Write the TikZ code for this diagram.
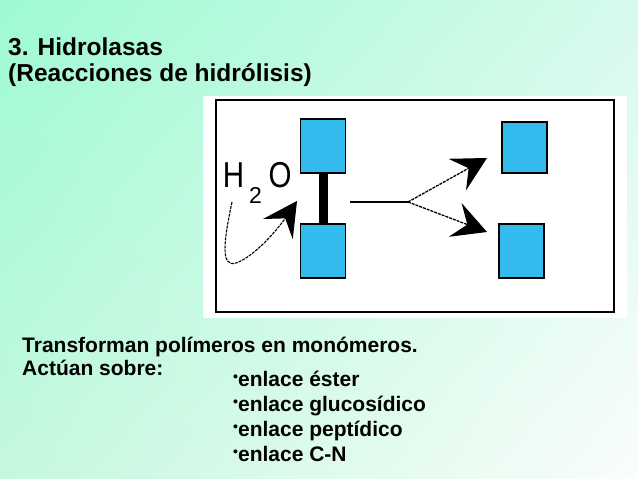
\documentclass[tikz,border=0pt]{standalone}
\usepackage{fontspec}
\setmainfont{Liberation Sans}
\usetikzlibrary{arrows.meta, positioning, shadings}
\definecolor{mintul}{RGB}{158,250,210}
\definecolor{mintur}{RGB}{214,250,236}
\definecolor{mintll}{RGB}{196,248,222}
\definecolor{mintlr}{RGB}{250,253,251}
\definecolor{unitblue}{HTML}{33BBEE}
\newcommand{\dotitem}{\raisebox{5pt}{\fontsize{14}{14}\selectfont •}}

\begin{document}
\begin{tikzpicture}[x=1pt, y=-1pt,
  >={Stealth[length=34pt, width=36pt, inset=13pt]},
  unit/.style={draw=black, line width=1.5pt, fill=unitblue,
    minimum width=45pt, minimum height=#1, inner sep=0pt},
  ttl/.style={anchor=base west, inner sep=0pt, font=\fontsize{24.5}{28}\selectfont\bfseries},
  txt/.style={anchor=base west, inner sep=0pt, font=\fontsize{21}{24}\selectfont\bfseries},
  forkline/.style={->, line width=1.3pt, dash pattern=on 3pt off 1pt},
]

% Background
\shade[upper left=mintul, upper right=mintur, lower left=mintll, lower right=mintlr]
  (0,0) rectangle (638,479);

% Title
\node[ttl] (title) at (8,55) {3. Hidrolasas};
\node[ttl] (subtitle) at (8,81) {(Reacciones de hidrólisis)};

% === Panel: dimer split by water ===

\fill[white] (203,96) rectangle (627,318);
\draw[line width=2pt] (216,100) rectangle (614,312);

\node[unit=54pt] (ltop) at (323,146) {};
\node[unit=54pt] (lbot) at (323,251) {};
\node[unit=51pt] (rtop) at (524.5,147.5) {};
\node[unit=54pt] (rbot) at (521.5,251) {};

\draw[line width=9pt] (ltop.south) -- (lbot.north);

\node[anchor=base west, inner sep=0pt, font=\fontsize{36}{36}\selectfont] (water) at (222.7,187)
  {\scalebox{0.82}[1]{H}\kern5pt\raisebox{-16pt}{\fontsize{23}{23}\selectfont 2}\kern6.7pt\scalebox{0.82}[1]{O}};

\coordinate (wstart) at (232,202);
\coordinate (wtip) at (297,201);
\draw[->, line width=1.1pt, dash pattern=on 3pt off 1pt]
  (wstart) .. controls (224,240) and (220,268) .. (236,263)
  .. controls (256,256) and (280,226) .. (wtip);

% Products
\coordinate (hstart) at (350,202);
\coordinate (fork) at (408,202);
\coordinate (ptop) at (487,158);
\coordinate (pbot) at (487,232);

\draw[line width=1.2pt] (hstart) -- (fork);
\draw[forkline] (fork) -- (ptop);
\draw[forkline] (fork) -- (pbot);

% === Bottom text ===

\node[txt] (intro) at (22,352) {Transforman polímeros en monómeros.};
\node[txt] (acts) at (22,375) {Actúan sobre:};
\node[txt] (bester) at (233,386) {\dotitem enlace éster};
\node[txt] (bgluc) at (233,411) {\dotitem enlace glucosídico};
\node[txt] (bpept) at (233,436) {\dotitem enlace peptídico};
\node[txt] (bcn) at (233,461) {\dotitem enlace C-N};

\end{tikzpicture}
\end{document}
